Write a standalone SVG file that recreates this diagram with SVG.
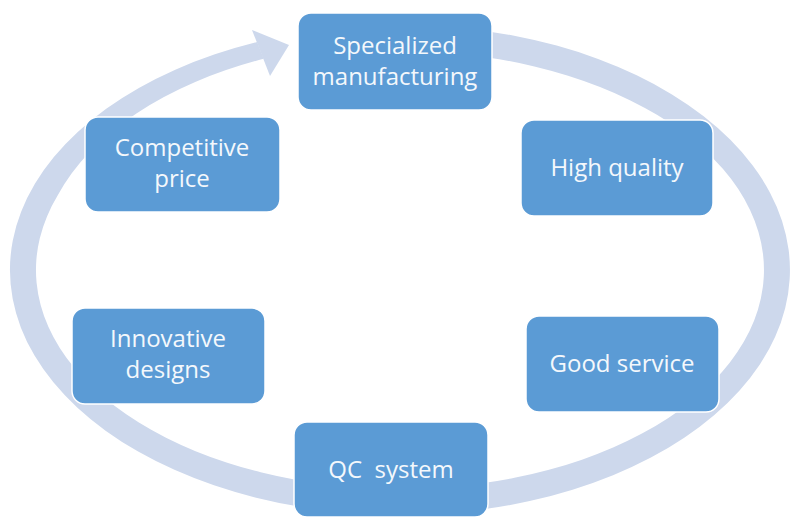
<svg xmlns="http://www.w3.org/2000/svg" width="800" height="529" viewBox="0 0 800 529">
<style>
.box{fill:#5B9BD5;stroke:#FFFFFF;stroke-width:1.5}
.lbl{font-family:"Open Sans","Liberation Sans",sans-serif;font-size:24px;fill:#F4F8FC;text-anchor:middle;white-space:pre}
.ring{fill:#CDD8EC}
</style>
<rect width="800" height="529" fill="#FFFFFF"/>
<g id="connectors">
<path class="ring" d="M467.7,28.7 A390,245 0 1,1 257.1,42 L263.7,58.8 A368,223 0 0,0 57.9,195.1 A364,219 0 1,0 463.2,54.3 Z"/>
<polygon class="ring" points="252,30 289,45 270,76"/>
</g>
<g id="node-specialized">
<rect class="box" x="298" y="13" width="194" height="97" rx="13"/>
<text class="lbl" x="395" y="54">Specialized</text>
<text class="lbl" x="395" y="85">manufacturing</text>
</g>
<g id="node-competitive">
<rect class="box" x="85" y="117" width="195" height="95" rx="13"/>
<text class="lbl" x="182" y="156">Competitive</text>
<text class="lbl" x="182" y="187">price</text>
</g>
<g id="node-quality">
<rect class="box" x="521" y="120" width="192" height="96" rx="13"/>
<text class="lbl" x="617" y="176">High quality</text>
</g>
<g id="node-service">
<rect class="box" x="526" y="316" width="193" height="96" rx="13"/>
<text class="lbl" x="622" y="372">Good service</text>
</g>
<g id="node-qc">
<rect class="box" x="294" y="422" width="194" height="95" rx="13"/>
<text class="lbl" x="391" y="478">QC  system</text>
</g>
<g id="node-innovative">
<rect class="box" x="72" y="308" width="193" height="96" rx="13"/>
<text class="lbl" x="168" y="347">Innovative</text>
<text class="lbl" x="168" y="378">designs</text>
</g>
</svg>
